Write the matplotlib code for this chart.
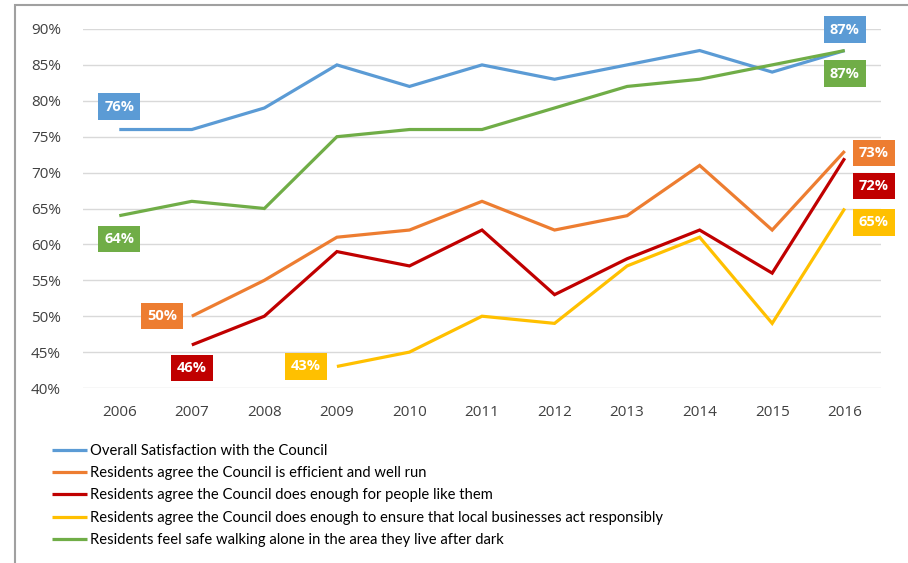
import matplotlib
matplotlib.use('Agg')
import matplotlib.pyplot as plt
from matplotlib.patches import Rectangle
import numpy as np

plt.rcParams['font.family'] = ['Open Sans', 'DejaVu Sans']

years = ['2006', '2007', '2008', '2009', '2010', '2011', '2012', '2013', '2014', '2015', '2016']

overall = [76, 76, 79, 85, 82, 85, 83, 85, 87, 84, 87]
efficient = [None, 50, 55, 61, 62, 66, 62, 64, 71, 62, 73]
people_like_them = [None, 46, 50, 59, 57, 62, 53, 58, 62, 56, 72]
businesses = [None, None, None, 43, 45, 50, 49, 57, 61, 49, 65]
feel_safe = [64, 66, 65, 75, 76, 76, 79, 82, 83, 85, 87]

names = ['Overall Satisfaction with the Council',
         'Residents agree the Council is efficient and well run',
         'Residents agree the Council does enough for people like them',
         'Residents agree the Council does enough to ensure that local businesses act responsibly',
         'Residents feel safe walking alone in the area they live after dark']
colors = ['#5B9BD5', '#ED7D31', '#C00000', '#FFC000', '#70AD47']
series = [overall, efficient, people_like_them, businesses, feel_safe]

# label offsets (pixels) for first and last point of each series
first_off = [(0, 23), (-30, 0), (0, -23), (-31, 0), (0, -23)]
last_off = [(0, 21), (29, -2), (29, -28), (29, -14), (0, -23)]

fig = plt.figure(figsize=(9.08, 5.63), dpi=100)
ax = fig.add_axes([83 / 908, 1 - 388 / 563, (881 - 83) / 908, (388 - 29) / 563])

x = np.arange(len(years))
for vals, name, c, fo, lo in zip(series, names, colors, first_off, last_off):
    v = np.array([np.nan if a is None else a for a in vals], dtype=float)
    ax.plot(x, v, color=c, lw=2.3, label=name, solid_joinstyle='miter', solid_capstyle='butt')
    idx = np.where(~np.isnan(v))[0]
    for i, off in ((idx[0], fo), (idx[-1], lo)):
        ax.annotate('%d%%' % v[i], (x[i], v[i]), xytext=off, textcoords='offset pixels',
                    ha='center', va='center', color='white', fontsize=10.5, fontweight='bold',
                    bbox=dict(boxstyle='square,pad=0.42', fc=c, ec='none'))

ax.set_xlim(-0.5, len(years) - 0.5)
ax.set_ylim(40, 90)
ax.set_xticks(x)
ax.set_xticklabels(years)
ax.set_yticks(np.arange(40, 91, 5))
ax.set_yticklabels(['%d%%' % t for t in np.arange(40, 91, 5)])
ax.tick_params(length=0, labelsize=11, labelcolor='#404040')
ax.tick_params(axis='x', pad=12)
ax.tick_params(axis='y', pad=16)
ax.grid(axis='y', color='#D9D9D9', lw=1)
ax.set_axisbelow(True)
for s in ax.spines.values():
    s.set_visible(False)

fig.legend(loc='upper left', bbox_to_anchor=(52 / 908, 1 - 444 / 563), frameon=False,
           prop={'family': 'Lato', 'size': 10.6}, handlelength=2.4, handletextpad=0.2,
           labelspacing=0.56, borderpad=0, borderaxespad=0)

fig.patches.append(Rectangle((15 / 908, -0.1), 1.2, 1 - 5 / 563 + 0.1, transform=fig.transFigure,
                             fill=False, ec='#A0A0A0', lw=1.5))

plt.savefig('out.png', dpi=100)
plt.close(fig)
